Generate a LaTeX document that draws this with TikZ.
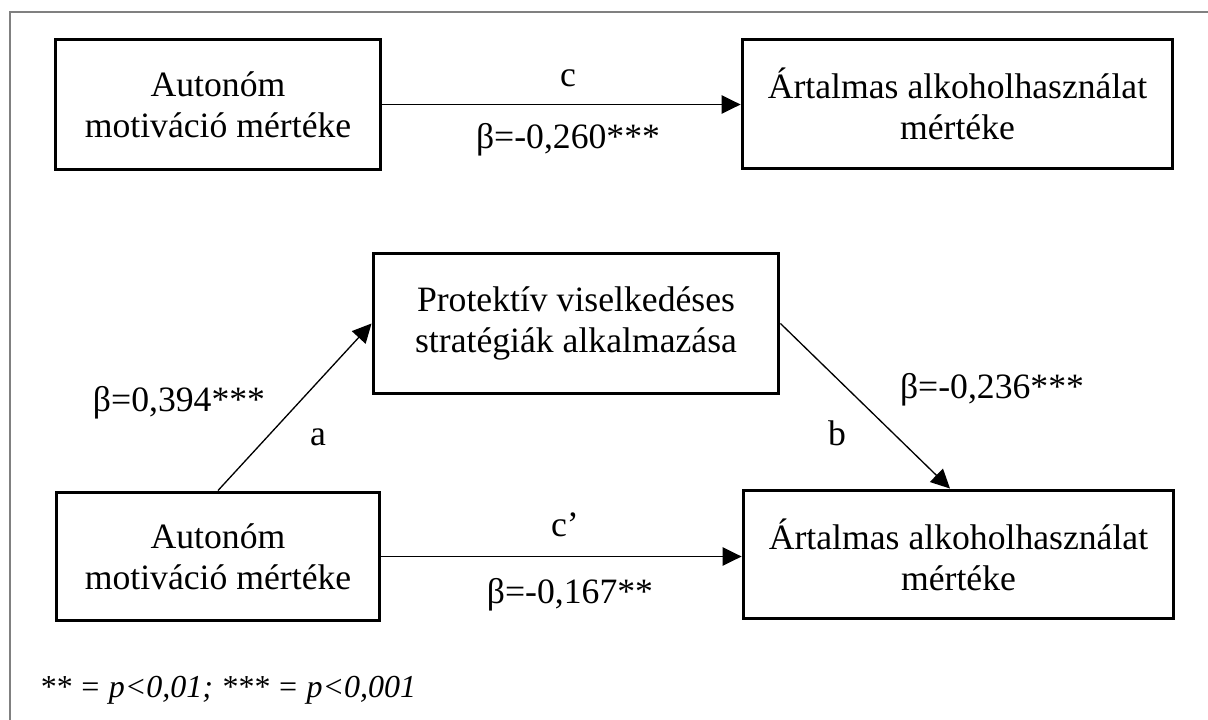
\documentclass[tikz,border=0pt]{standalone}
\usepackage{fontspec}
\setmainfont{Liberation Serif}
\usepackage{xcolor}
\usetikzlibrary{arrows.meta, positioning, calc}
\definecolor{framegray}{RGB}{128, 128, 128}

\begin{document}
\begin{tikzpicture}[
    x=0.02cm, y=-0.02cm,
    box/.style={draw, line width=1.7pt, inner sep=0pt, align=center, font=\fontsize{20.3pt}{23.3pt}\selectfont},
    arrow/.style={-{Triangle[length=3.8mm, width=3.7mm]}, line width=0.75pt},
    label/.style={inner sep=0pt, font=\fontsize{20.3pt}{23.3pt}\selectfont},
]
\useasboundingbox (0,0) rectangle (1208,720);

% Frame
\draw[framegray, line width=0.85pt] (10,720) -- (10,12) -- (1208,12);

% Total effect
\node[box, minimum width=6.52cm, minimum height=2.62cm] (auto1) at (218,104.5) {Autonóm\\motiváció mértéke};
\node[box, minimum width=8.62cm, minimum height=2.6cm] (harm1) at (957.5,104) {Ártalmas alkoholhasználat\\mértéke};

% Mediator
\node[box, minimum width=8.12cm, minimum height=2.82cm] (prot) at (576,323.5) {Protektív viselkedéses\\stratégiák alkalmazása};

% Direct effect
\node[box, minimum width=6.48cm, minimum height=2.58cm] (auto2) at (218,556.5) {Autonóm\\motiváció mértéke};
\node[box, minimum width=8.62cm, minimum height=2.58cm] (harm2) at (958.5,554.5) {Ártalmas alkoholhasználat\\mértéke};

% Arrows
\draw[arrow] (auto1.east) -- (auto1.east -| harm1.west);
\draw[arrow] (auto2.north) -- (prot.west);
\draw[arrow] (prot.east) -- ([xshift=-0.17cm]harm2.north);
\draw[arrow] (auto2.east) -- (auto2.east -| harm2.west);

% Labels
\node[label] (lc) at (568,78) {c};
\node[label] (bc) at (568,140) {β=-0,260***};
\node[label] (ba) at (179,403) {β=0,394***};
\node[label] (la) at (318,437) {a};
\node[label] (lb) at (837,433) {b};
\node[label] (bb) at (992,390) {β=-0,236***};
\node[label] (lcp) at (565,525) {c’};
\node[label] (bcp) at (570,595) {β=-0,167**};

% Note
\node[inner sep=0pt, anchor=west, font=\fontsize{18.2pt}{21pt}\selectfont\itshape] (note) at (39,690) {** = p<0,01; *** = p<0,001};

\end{tikzpicture}
\end{document}
